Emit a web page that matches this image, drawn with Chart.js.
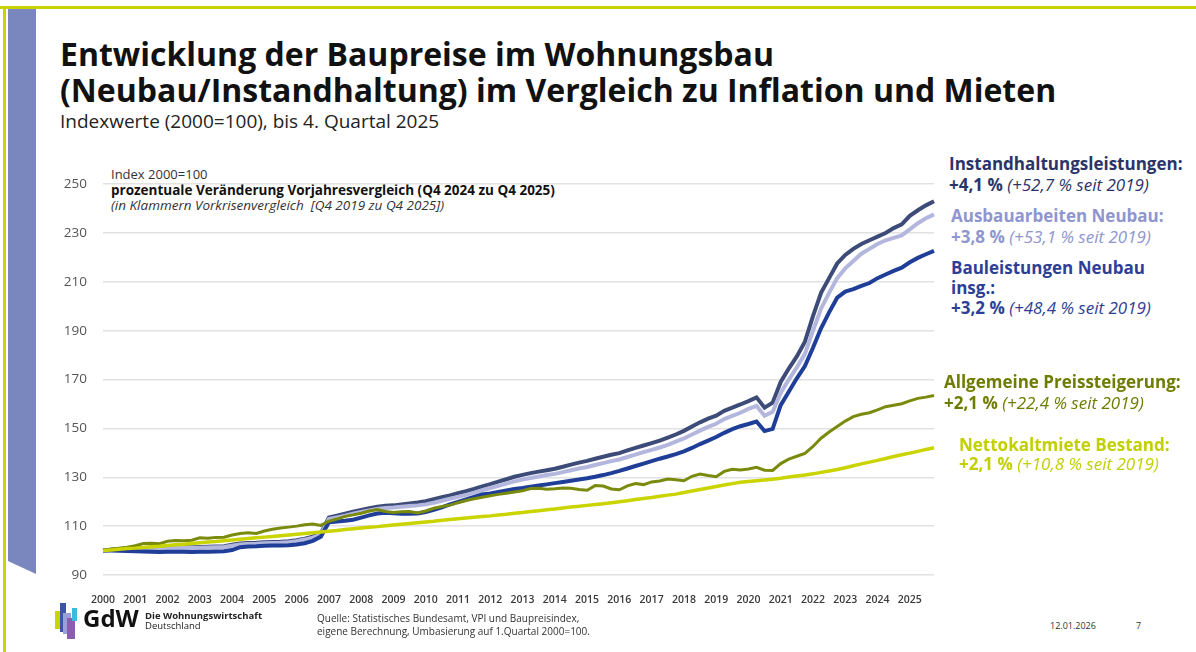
<!DOCTYPE html>
<html>
<head>
<meta charset="utf-8">
<script src="https://cdn.jsdelivr.net/npm/chart.js@4.4.1/dist/chart.umd.min.js"></script>
<style>
  body { margin:0; width:1196px; height:652px; background:#fff; position:relative; overflow:hidden; font-family:"Open Sans", sans-serif; }
  .t { position:absolute; white-space:nowrap; }
  #chartBox { position:absolute; left:40px; top:160px; width:905px; height:445px; }
  .lg { position:absolute; white-space:nowrap; font-size:17px; font-weight:700; line-height:22px; }
  .lg i { font-weight:400; }
</style>
</head>
<body>
<!-- Folienrahmen -->
<div style="position:absolute;left:0;top:6px;width:1196px;height:3px;background:#c8d400"></div>
<div style="position:absolute;left:3px;top:6px;width:3px;height:646px;background:#c8d400"></div>
<svg style="position:absolute;left:0;top:0" width="40" height="600"><polygon points="8,9 36,9 36,574 8,561" fill="#7a87bf"/></svg>

<div class="t" style="left:60px;top:35px;font-size:32px;font-weight:700;line-height:38px;color:#111">Entwicklung der Baupreise im Wohnungsbau</div>
<div class="t" style="left:60px;top:71px;font-size:32px;font-weight:700;line-height:38px;color:#111">(Neubau/Instandhaltung) im Vergleich zu Inflation und Mieten</div>
<div class="t" style="left:60px;top:109px;font-size:19px;line-height:24px;color:#222">Indexwerte (2000=100), bis 4. Quartal 2025</div>

<div class="t" style="left:111px;top:166px;font-size:13px;line-height:17px;color:#333">Index 2000=100</div>
<div class="t" style="left:111px;top:182px;font-size:13.5px;line-height:17px;font-weight:700;color:#111">prozentuale Veränderung Vorjahresvergleich (Q4 2024 zu Q4 2025)</div>
<div class="t" style="left:111px;top:197px;font-size:13.5px;line-height:17px;font-style:italic;color:#333">(in Klammern Vorkrisenvergleich&nbsp; [Q4 2019 zu Q4 2025])</div>

<div id="chartBox"><canvas id="chart" width="905" height="445"></canvas></div>

<div class="lg" style="left:949px;top:153px;color:#2b3468">Instandhaltungsleistungen:</div>
<div class="lg" style="left:949px;top:174px;color:#2b3468">+4,1 % <i>(+52,7 % seit 2019)</i></div>
<div class="lg" style="left:951px;top:205px;color:#8f95cf">Ausbauarbeiten Neubau:</div>
<div class="lg" style="left:951px;top:226px;color:#8f95cf">+3,8 % <i>(+53,1 % seit 2019)</i></div>
<div class="lg" style="left:951px;top:257px;color:#2d3f95">Bauleistungen Neubau</div>
<div class="lg" style="left:951px;top:277px;color:#2d3f95">insg.:</div>
<div class="lg" style="left:951px;top:297px;color:#2d3f95">+3,2 % <i>(+48,4 % seit 2019)</i></div>
<div class="lg" style="left:944px;top:371px;color:#6e7d00">Allgemeine Preissteigerung:</div>
<div class="lg" style="left:944px;top:392px;color:#6e7d00">+2,1 % <i>(+22,4 % seit 2019)</i></div>
<div class="lg" style="left:959px;top:434px;color:#c2cf00">Nettokaltmiete Bestand:</div>
<div class="lg" style="left:959px;top:453px;color:#c2cf00">+2,1 % <i>(+10,8 % seit 2019)</i></div>

<!-- Fusszeile -->
<svg style="position:absolute;left:50px;top:600px" width="32" height="42">
  <rect x="5" y="11" width="5" height="18" fill="#c8d400"/>
  <rect x="10" y="3" width="6" height="29" fill="#3c56a5"/>
  <rect x="13" y="13" width="8" height="21" fill="#9aa0d8"/>
  <rect x="17" y="18" width="8" height="21" fill="#8a5db0"/>
  <rect x="22" y="8" width="5" height="13" fill="#3bbcd6"/>
</svg>
<div class="t" style="left:83px;top:604px;font-size:24px;font-weight:700;line-height:28px;color:#111">GdW</div>
<div class="t" style="left:145px;top:610px;font-size:9.5px;font-weight:700;line-height:11px;color:#222">Die Wohnungswirtschaft</div>
<div class="t" style="left:145px;top:620px;font-size:9.5px;line-height:11px;color:#222">Deutschland</div>
<div class="t" style="left:317px;top:612px;font-size:10px;line-height:13px;color:#333">Quelle: Statistisches Bundesamt, VPI und Baupreisindex,</div>
<div class="t" style="left:317px;top:625px;font-size:10px;line-height:13px;color:#333">eigene Berechnung, Umbasierung auf 1.Quartal 2000=100.</div>
<div class="t" style="left:1050px;top:620px;font-size:9px;line-height:12px;color:#333">12.01.2026</div>
<div class="t" style="left:1136px;top:620px;font-size:9px;line-height:12px;color:#333">7</div>

<script>
// Quartale 2000 Q1 bis 2025 Q4, Jahreszahl nur am 1. Quartal
const years = ['2000','2001','2002','2003','2004','2005','2006','2007','2008','2009','2010','2011','2012',
  '2013','2014','2015','2016','2017','2018','2019','2020','2021','2022','2023','2024','2025'];
const quarters = [];
years.forEach(y => { for (let q = 1; q <= 4; q++) quarters.push(y + ' Q' + q); });

const yTicks = [90, 110, 130, 150, 170, 190, 210, 230, 250];

// Instandhaltungsleistungen
const instandhaltung = [
  100.0, 100.3, 100.6, 100.8,  101.0, 101.1, 101.2, 101.2,  101.2, 101.3, 101.4, 101.4,
  101.5, 101.6, 101.7, 101.8,  102.4, 102.9, 103.1, 103.2,  103.4, 103.5, 103.6, 103.8,
  104.2, 104.9, 105.7, 107.0,  113.5, 114.3, 115.1, 115.9,  116.6, 117.3, 117.9, 118.3,
  118.5, 118.9, 119.3, 119.7,  120.2, 121.0, 121.8, 122.6,  123.5, 124.3, 125.2, 126.3,
  127.2, 128.2, 129.2, 130.2,  131.0, 131.7, 132.3, 132.9,  133.5, 134.3, 135.2, 136.0,
  136.7, 137.6, 138.4, 139.2,  139.9, 141.0, 142.0, 143.0,  144.0, 145.0, 146.2, 147.5,
  149.0, 150.8, 152.5, 154.0,  155.2, 157.2, 158.5, 159.8,  161.2, 162.7, 158.5, 160.5,
  169.0, 174.5, 179.5, 185.5,  196.0, 205.5, 211.5, 217.5,  221.0, 223.5, 225.5, 227.0,
  228.5, 230.0, 232.0, 233.5,  237.0, 239.3, 241.3, 243.0
];
// Ausbauarbeiten Neubau
const ausbau = [
  100.0, 100.2, 100.4, 100.6,  100.8, 100.9, 101.0, 101.0,  101.0, 101.1, 101.1, 101.2,
  101.2, 101.3, 101.4, 101.5,  102.0, 102.5, 102.7, 102.8,  103.0, 103.1, 103.2, 103.4,
  103.8, 104.5, 105.3, 106.5,  112.9, 113.6, 114.3, 115.1,  115.8, 116.4, 117.0, 117.4,
  117.6, 117.9, 118.2, 118.5,  118.9, 119.6, 120.4, 121.2,  122.0, 122.8, 123.7, 124.7,
  125.6, 126.5, 127.4, 128.3,  129.1, 129.7, 130.3, 130.9,  131.4, 132.1, 132.9, 133.6,
  134.2, 135.0, 135.8, 136.6,  137.3, 138.3, 139.3, 140.3,  141.2, 142.2, 143.3, 144.6,
  145.9, 147.5, 149.1, 150.6,  151.9, 153.8, 155.1, 156.4,  158.0, 159.2, 155.2, 156.8,
  164.5, 170.0, 175.0, 180.5,  190.0, 199.0, 205.5, 211.5,  215.5, 218.5, 221.5, 223.5,
  225.5, 227.0, 228.0, 229.0,  231.5, 234.0, 236.0, 237.6
];
// Bauleistungen Neubau insg.
const neubau = [
  100.0, 100.0,  99.9,  99.8,   99.7,  99.6,  99.5,  99.4,   99.5,  99.5,  99.5,  99.4,
   99.5,  99.5,  99.6,  99.7,  100.2, 101.4, 101.7, 101.8,  102.0, 102.1, 102.1, 102.2,
  102.5, 103.0, 104.0, 105.7,  111.6, 111.9, 112.2, 112.6,  113.5, 114.4, 115.2, 115.5,
  115.3, 115.1, 115.1, 115.2,  115.8, 116.7, 117.7, 118.9,  119.9, 120.9, 122.0, 123.0,
  123.4, 124.0, 124.6, 125.2,  125.6, 126.1, 126.6, 127.1,  127.6, 128.1, 128.6, 129.1,
  129.6, 130.2, 130.9, 131.7,  132.6, 133.6, 134.6, 135.6,  136.6, 137.6, 138.5, 139.5,
  140.6, 142.0, 143.6, 145.0,  146.5, 148.2, 149.7, 150.9,  151.8, 152.8, 148.9, 149.8,
  159.5, 165.0, 170.5, 175.5,  183.0, 191.0, 197.5, 203.5,  206.0, 207.0, 208.3, 209.5,
  211.5, 213.0, 214.5, 215.8,  218.0, 219.8, 221.3, 222.7
];
// Allgemeine Preissteigerung (VPI)
const vpi = [
  100.0, 100.6, 101.0, 101.4,  102.0, 102.9, 103.0, 102.8,  103.8, 104.1, 104.0, 104.2,
  105.2, 105.0, 105.4, 105.5,  106.4, 107.0, 107.3, 107.0,  108.0, 108.7, 109.2, 109.6,
  110.0, 110.6, 110.9, 110.3,  112.0, 112.9, 114.0, 114.6,  115.3, 116.2, 116.8, 116.0,
  115.6, 115.9, 116.0, 115.4,  116.2, 117.3, 118.0, 118.6,  119.6, 120.5, 121.2, 121.8,
  122.4, 123.0, 123.5, 124.0,  124.5, 125.4, 125.5, 125.1,  125.3, 125.6, 125.5, 125.0,
  124.7, 126.6, 126.4, 125.2,  124.9, 126.5, 127.4, 127.0,  128.1, 128.5, 129.3, 129.0,
  128.6, 130.4, 131.3, 130.7,  130.2, 132.4, 133.3, 133.0,  133.4, 134.1, 132.9, 132.8,
  135.6, 137.4, 138.6, 139.8,  142.6, 146.0, 148.5, 150.8,  153.0, 154.8, 155.8, 156.4,
  157.6, 158.9, 159.5, 160.1,  161.3, 162.3, 162.8, 163.5
];
// Nettokaltmiete Bestand
const miete = [
  100.0, 100.2, 100.5, 100.8,  101.0, 101.3, 101.6, 101.8,  102.1, 102.4, 102.6, 102.9,
  103.2, 103.5, 103.7, 104.0,  104.3, 104.6, 104.9, 105.2,  105.5, 105.8, 106.1, 106.4,
  106.7, 107.0, 107.3, 107.6,  107.9, 108.2, 108.6, 108.9,  109.2, 109.5, 109.8, 110.2,
  110.5, 110.8, 111.1, 111.4,  111.7, 112.0, 112.4, 112.7,  113.0, 113.3, 113.6, 113.9,
  114.2, 114.6, 114.9, 115.3,  115.6, 116.0, 116.3, 116.7,  117.0, 117.4, 117.8, 118.1,
  118.5, 118.9, 119.2, 119.6,  120.0, 120.4, 120.9, 121.3,  121.7, 122.2, 122.7, 123.1,
  123.8, 124.4, 125.0, 125.6,  126.2, 126.8, 127.4, 128.0,  128.3, 128.6, 128.9, 129.2,
  129.6, 130.1, 130.5, 130.9,  131.4, 132.0, 132.6, 133.2,  133.9, 134.7, 135.5, 136.2,
  136.9, 137.7, 138.5, 139.2,  139.9, 140.6, 141.4, 142.1
];

function line(label, data, color, width) {
  return { label: label, data: data, borderColor: color, borderWidth: width,
    pointRadius: 0, tension: 0, fill: false };
}

let ctx = document.getElementById('chart').getContext('2d');
let chart = new Chart(ctx, {
  type: 'line',
  data: {
    labels: quarters,
    datasets: [
      line('Nettokaltmiete Bestand', miete, '#c9d400', 3.5),
      line('Allgemeine Preissteigerung', vpi, '#7a8a0c', 3),
      line('Bauleistungen Neubau insg.', neubau, '#1f3e98', 4),
      line('Ausbauarbeiten Neubau', ausbau, '#b3b7de', 4),
      line('Instandhaltungsleistungen', instandhaltung, '#3d4b78', 4)
    ]
  },
  options: {
    responsive: false,
    devicePixelRatio: 1,
    animation: false,
    layout: { padding: { top: 23, right: 8, left: 0, bottom: 0 } },
    plugins: { legend: { display: false }, tooltip: { enabled: false } },
    scales: {
      x: {
        grid: { display: false },
        border: { display: false },
        afterFit: function (s) { s.height = 30; },
        ticks: {
          autoSkip: false, maxRotation: 0, minRotation: 0, padding: 11,
          color: '#3a3a3a', font: { family: 'Open Sans', size: 10.5, weight: '600' },
          callback: function (v, i) { return i % 4 === 0 ? years[i / 4] : ''; }
        }
      },
      y: {
        min: yTicks[0], max: yTicks[yTicks.length - 1],
        afterFit: function (s) { s.width = 63; },
        afterBuildTicks: function (s) { s.ticks = yTicks.map(v => ({ value: v })); },
        grid: { color: '#e2e2e2', lineWidth: 1.5, drawTicks: false },
        border: { display: false },
        ticks: { padding: 16, color: '#555', font: { family: 'Open Sans', size: 13.5 } }
      }
    }
  }
});
</script>
</body>
</html>
